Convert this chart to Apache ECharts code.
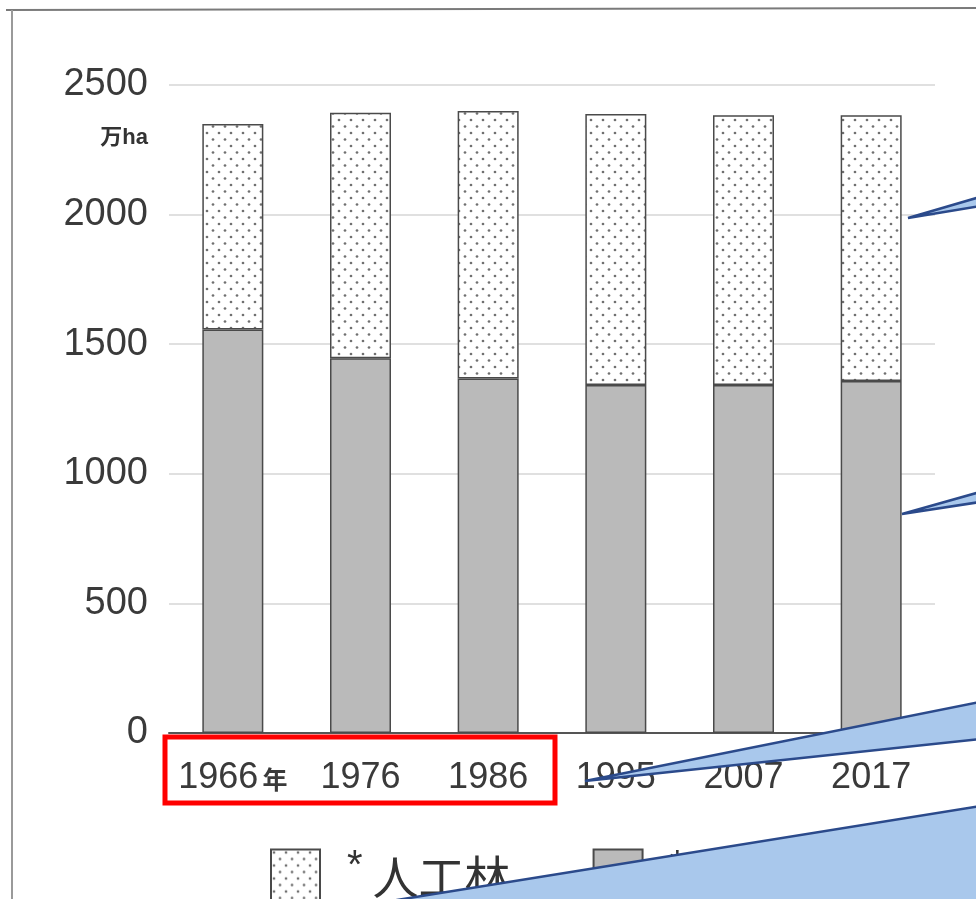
<!DOCTYPE html>
<html>
<head>
<meta charset="utf-8">
<script src="https://cdn.jsdelivr.net/npm/echarts@6/dist/echarts.min.js"></script>
<style>
html,body{margin:0;padding:0;background:#fff;}
#chart{width:976px;height:899px;}
</style>
</head>
<body>
<div id="chart"></div>
<script>
// ---- data ----
const categories = ['1966年', '1976', '1986', '1995', '2007', '2017'];
const naturalForest = [1557, 1446, 1368, 1343, 1343, 1358];   // *天然林 (万ha)
const plantedForest = [793, 947, 1032, 1045, 1040, 1025];     // *人工林 (万ha)
const yTicks = [0, 500, 1000, 1500, 2000, 2500];
const seriesNames = ['人工林', '天然林'];
const unitLabel = '万ha';

// dotted pattern for planted forest
function makeDots() {
  const c = document.createElement('canvas');
  c.width = 12; c.height = 13;
  const ctx = c.getContext('2d');
  ctx.fillStyle = '#ffffff';
  ctx.fillRect(0, 0, 12, 13);
  ctx.fillStyle = '#707070';
  [[3, 3], [9, 9.5]].forEach(([x, y]) => {
    ctx.beginPath(); ctx.arc(x, y, 1.35, 0, Math.PI * 2); ctx.fill();
  });
  return c;
}
const dotPattern = { image: makeDots(), repeat: 'repeat' };

const chart = echarts.init(document.getElementById('chart'), null, { renderer: 'canvas' });

const calloutFill = '#a9c8ec';
const calloutStroke = '#2b4a8b';

const option = {
  backgroundColor: '#ffffff',
  animation: false,
  grid: { left: 169, right: 41, top: 85, bottom: 166, containLabel: false },
  legend: {
    left: 265, top: 842,
    icon: 'rect',
    itemWidth: 49, itemHeight: 55, itemGap: 82,
    selectedMode: false,
    data: [seriesNames[0], seriesNames[1]],
    formatter: name => '{s|*}{t|' + name + '}',
    textStyle: {
      rich: {
        s: { fontSize: 40, fontFamily: 'Liberation Sans', color: '#333', padding: [0, 10, 20, 0] },
        t: { fontSize: 46, fontFamily: 'Noto Sans CJK JP', color: '#333' }
      },
      padding: [0, 0, 0, 22]
    }
  },
  xAxis: {
    type: 'category',
    data: categories,
    axisTick: { show: false },
    axisLine: { lineStyle: { color: '#555', width: 2 } },
    axisLabel: {
      margin: 27,
      color: '#3a3a3a',
      formatter: v => v.endsWith('年')
        ? '{n|' + v.slice(0, -1) + '}{u|年}'
        : '{n|' + v + '}',
      rich: {
        n: { fontSize: 36, fontFamily: 'Liberation Sans, Arial', color: '#3a3a3a' },
        u: { fontSize: 25, fontFamily: 'Noto Sans CJK JP', fontWeight: 'bold', color: '#3a3a3a', padding: [2, 0, 0, 4] }
      }
    }
  },
  yAxis: {
    type: 'value',
    min: yTicks[0], max: yTicks[yTicks.length - 1], interval: 500,
    axisLine: { show: false },
    axisTick: { show: false },
    splitLine: { lineStyle: { color: '#d6d6d6', width: 1.5 } },
    axisLabel: {
      margin: 21,
      fontSize: 38,
      fontFamily: 'Liberation Sans, Arial',
      color: '#3a3a3a',
      padding: [4, 0, 0, 0],
      formatter: v => String(v)
    }
  },
  series: [
    {
      name: seriesNames[1],
      type: 'bar',
      stack: 'forest',
      barWidth: 61,
      data: naturalForest,
      itemStyle: { color: '#bababa', borderColor: '#4a4a4a', borderWidth: 1.5 }
    },
    {
      name: seriesNames[0],
      type: 'bar',
      stack: 'forest',
      barWidth: 61,
      data: plantedForest,
      itemStyle: { color: dotPattern, borderColor: '#4a4a4a', borderWidth: 1.5 }
    }
  ],
  graphic: [
    // scan frame
    { type: 'line', z: 50, shape: { x1: 6, y1: 10, x2: 976, y2: 8 }, style: { stroke: '#7a7a7a', lineWidth: 2 } },
    { type: 'line', z: 50, shape: { x1: 12, y1: 10, x2: 12, y2: 899 }, style: { stroke: '#9a9a9a', lineWidth: 2 } },
    // unit label
    { type: 'text', z: 50, x: 148, y: 138,
      style: { text: unitLabel, textAlign: 'right', textVerticalAlign: 'middle',
               font: 'bold 22px "Liberation Sans", "Noto Sans CJK JP"', fill: '#333' } },
    // red highlight rectangle
    { type: 'rect', z: 100, shape: { x: 165, y: 737, width: 390, height: 66 },
      style: { fill: 'none', stroke: '#ff0000', lineWidth: 5 } },
    // callouts
    { type: 'polygon', z: 100, shape: { points: [[908, 218], [980, 197], [980, 206]] },
      style: { fill: calloutFill, stroke: calloutStroke, lineWidth: 2.5 } },
    { type: 'polygon', z: 100, shape: { points: [[902, 514], [980, 492], [980, 502]] },
      style: { fill: calloutFill, stroke: calloutStroke, lineWidth: 2.5 } },
    { type: 'polygon', z: 100, shape: { points: [[585, 781], [980, 702], [980, 739]] },
      style: { fill: calloutFill, stroke: calloutStroke, lineWidth: 2.5 } },
    { type: 'polygon', z: 100, shape: { points: [[397, 900], [980, 806], [980, 902], [397, 902]] },
      style: { fill: calloutFill, stroke: calloutStroke, lineWidth: 2.5 } }
  ]
};
chart.setOption(option);
</script>
</body>
</html>
